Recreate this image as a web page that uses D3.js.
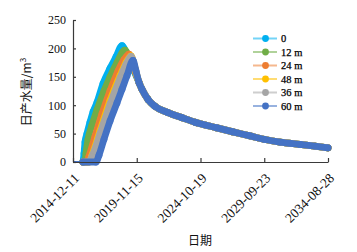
<!DOCTYPE html>
<html><head><meta charset="utf-8">
<script src="https://cdn.jsdelivr.net/npm/d3@7"></script>
<style>
html,body{margin:0;padding:0;background:#fff;}
svg{display:block;}
</style></head>
<body>
<svg id="chart" width="357" height="252"></svg>
<script>
// ---- data ----
const seriesNames = ["0", "12 m", "24 m", "48 m", "36 m", "60 m"];
const xTickLabels = ["2014-12-11", "2019-11-15", "2024-10-19", "2029-09-23", "2034-08-28"];
const yTickValues = [0, 50, 100, 150, 200, 250];

const rise0 = [["2014-12-11",0],["2015-09-19",0],["2015-10-18",15],["2015-11-15",35],["2016-01-10",50],["2016-04-04",70],["2016-06-28",88],["2016-10-19",105],["2017-04-06",138],["2017-10-21",165],["2018-04-08",185],["2018-09-25",205],["2019-03-13",183],["2019-08-29",160]];
const rise12 = [["2014-12-11",0],["2015-09-19",0],["2015-11-15",0],["2015-12-13",15],["2016-02-08",40],["2016-05-30",65],["2016-10-19",92],["2017-05-04",125],["2017-10-21",150],["2018-05-06",175],["2018-12-18",197],["2019-06-06",172],["2019-10-25",155]];
const rise24 = [["2014-12-11",0],["2015-09-19",0],["2016-01-10",0],["2016-03-07",10],["2016-08-23",45],["2017-03-09",85],["2017-10-21",125],["2018-06-03",160],["2018-11-20",180],["2019-04-10",190],["2019-08-29",165]];
const rise48 = [["2014-12-11",0],["2015-09-19",0],["2016-03-07",0],["2016-05-30",12],["2017-01-11",55],["2017-10-21",108],["2018-08-01",152],["2019-01-15",175],["2019-06-06",187],["2019-09-27",165]];
const rise36 = [["2014-12-11",0],["2015-09-19",0],["2016-03-07",0],["2016-05-30",10],["2017-01-11",50],["2017-10-21",102],["2018-08-01",148],["2019-01-15",172],["2019-06-06",186],["2019-09-27",165]];
const rise60 = [["2014-12-11",0],["2015-09-19",0],["2016-09-20",0],["2016-12-14",12],["2017-05-04",40],["2017-10-21",72],["2018-05-06",104],["2018-09-25",128],["2019-02-13",152],["2019-08-01",179],["2019-10-25",160]];

const tailDates = ["2020-01-18","2020-04-11","2020-09-28","2021-04-13","2022-04-15","2023-05-17","2024-05-17","2026-01-29","2027-04-25","2028-08-17","2029-09-16","2030-12-11","2032-06-26","2033-08-23","2034-08-28"];
const tailValues = [140, 128, 110, 98, 87, 78, 70, 60, 53, 46, 40, 35, 31, 28, 25];

// ---- styles ----
const colors = ["#00B0F0", "#70AD47", "#ED7D31", "#FFC000", "#A5A5A5", "#4472C4"];
const risePartsList = [rise0, rise12, rise24, rise48, rise36, rise60];

const parse = d3.utcParse("%Y-%m-%d");
const tail = tailDates.map((d, i) => [d, tailValues[i]]);
const series = risePartsList.map((r, i) => ({
  name: seriesNames[i],
  color: colors[i],
  points: r.concat(tail).map(([d, v]) => ({date: parse(d), value: v}))
}));

const svg = d3.select("#chart");
const M = {left: 73, right: 328, top: 20, bottom: 162};
const x = d3.scaleUtc().domain([parse(xTickLabels[0]), parse(xTickLabels[xTickLabels.length-1])]).range([M.left, M.right]);
const y = d3.scaleLinear().domain([0, 250]).range([M.bottom, M.top]);

const line = d3.line().x(d => x(d.date)).y(d => y(d.value)).curve(d3.curveMonotoneX);
const segLine = d3.line().x(d => x(d.date)).y(d => y(d.value));

// series
series.forEach(s => {
  const g = svg.append("g");
  g.append("path").datum(s.points.slice(0, 2)).attr("d", segLine)
    .attr("fill", "none").attr("stroke", s.color).attr("stroke-width", 2);
  const band = s.points.slice(1);
  g.append("path").datum(band).attr("d", line)
    .attr("fill", "none").attr("stroke", s.color).attr("stroke-width", 6.8)
    .attr("stroke-linejoin", "round").attr("stroke-linecap", "round");
  g.selectAll("circle").data(band).join("circle")
    .attr("cx", d => x(d.date)).attr("cy", d => y(d.value)).attr("r", 3.4)
    .attr("fill", s.color);
});

// axes
const axisColor = "#3a3a3a";
const yAxis = svg.append("g").attr("transform", `translate(${M.left},0)`)
  .call(d3.axisLeft(y).tickValues(yTickValues).tickSizeInner(-3).tickSizeOuter(0).tickPadding(7));
yAxis.selectAll("path,line").attr("stroke", axisColor).attr("stroke-width", 1.2);
yAxis.selectAll("text").attr("font-family", "'Liberation Serif','Times New Roman',serif")
  .attr("font-size", 12).attr("fill", "#111");

const xAxis = svg.append("g").attr("transform", `translate(0,${M.bottom})`)
  .call(d3.axisBottom(x).tickValues(xTickLabels.map(parse)).tickSizeInner(-4).tickSizeOuter(0).tickFormat(""));
xAxis.selectAll("path,line").attr("stroke", axisColor).attr("stroke-width", 1.2);

svg.append("g").selectAll("text").data(xTickLabels).join("text")
  .attr("transform", d => `translate(${x(parse(d)) + 7},${M.bottom + 17}) rotate(-45)`)
  .attr("text-anchor", "end")
  .attr("font-family", "'Liberation Serif','Times New Roman',serif")
  .attr("font-size", 13.5).attr("fill", "#111")
  .text(d => d);

// axis titles
const yt = svg.append("text")
  .attr("transform", `translate(31,${(M.top + M.bottom) / 2 + 1}) rotate(-90)`)
  .attr("text-anchor", "middle")
  .attr("font-family", "'Noto Sans CJK SC',sans-serif")
  .attr("font-size", 12).attr("fill", "#111");
yt.append("tspan").text("日产水量/m");
yt.append("tspan").attr("font-size", 8).attr("dy", -5).text("3");

svg.append("text").attr("x", 200).attr("y", 245).attr("text-anchor", "middle")
  .attr("font-family", "'Noto Sans CJK SC',sans-serif")
  .attr("font-size", 12).attr("fill", "#111").text("日期");

// legend
const lg = svg.append("g");
const rowY = d3.scalePoint().domain(seriesNames).range([38.5, 106]);
seriesNames.forEach((n, i) => {
  const yy = rowY(n);
  lg.append("line").attr("x1", 253).attr("x2", 277).attr("y1", yy).attr("y2", yy)
    .attr("stroke", colors[i]).attr("stroke-opacity", 0.55).attr("stroke-width", 2);
  lg.append("circle").attr("cx", 265.5).attr("cy", yy).attr("r", 3.4).attr("fill", colors[i]);
  lg.append("text").attr("x", 281).attr("y", yy).attr("dy", "0.35em")
    .attr("font-family", "'Liberation Serif','Times New Roman',serif")
    .attr("font-size", 10.5).attr("fill", "#000").attr("stroke", "#000").attr("stroke-width", 0.25).text(n);
});
</script>
</body></html>
